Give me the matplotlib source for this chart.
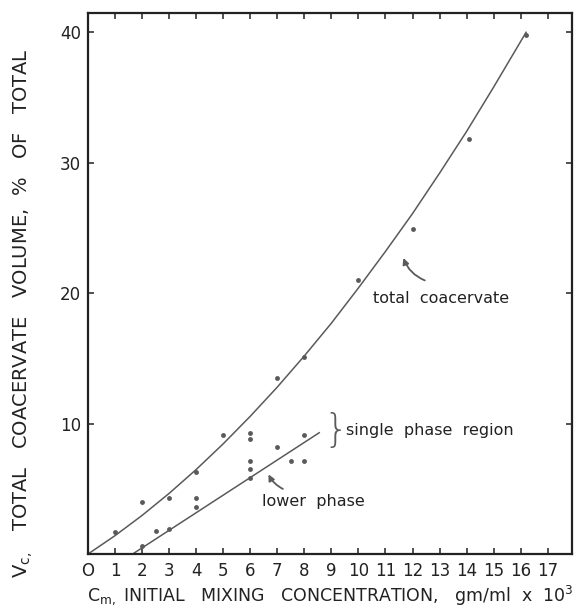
"""Total coacervate volume vs initial mixing concentration (scanned figure redraw)."""
import matplotlib
matplotlib.use("Agg")
import matplotlib.pyplot as plt

# measured points, total coacervate
total_x = [1, 2, 3, 4, 5, 6, 6, 7, 8, 10, 12, 14.1, 16.2]
total_y = [1.7, 4.0, 4.3, 6.3, 9.1, 9.3, 8.8, 13.5, 15.1, 21.0, 24.9, 31.8, 39.8]
# measured points, lower phase
lower_x = [2, 2.5, 3, 4, 4, 6, 6, 6, 7, 7.5, 8, 8]
lower_y = [0.6, 1.75, 1.9, 3.6, 4.3, 5.8, 6.5, 7.1, 8.2, 7.1, 7.1, 9.1]

# fitted curves
fit_total_x = [0, 1, 2, 3, 4, 5, 6, 7, 8, 9, 10, 11, 12, 13, 14, 15, 16.2]
fit_total_y = [0, 1.41, 2.96, 4.65, 6.48, 8.45, 10.56, 12.8, 15.19, 17.7, 20.4,
               23.2, 26.1, 29.2, 32.4, 35.8, 40.0]
fit_lower_x = [1.65, 8.55]
fit_lower_y = [0.0, 9.3]

xticks = list(range(0, 18))
xticklabels = ["O"] + [str(i) for i in range(1, 18)]
yticks = [10, 20, 30, 40]

INK = "#222222"
GREY = "#5a5a5a"

fig = plt.figure(figsize=(5.79, 6.13), dpi=100)
ax = fig.add_axes([0.152, 0.0962, 0.836, 0.883])

ax.plot(fit_total_x, fit_total_y, color=GREY, lw=1.1)
ax.plot(fit_lower_x, fit_lower_y, color=GREY, lw=1.1)
ax.plot(total_x, total_y, "o", ms=3.5, color=GREY, mec="none")
ax.plot(lower_x, lower_y, "o", ms=3.5, color=GREY, mec="none")

ax.set_xlim(0, 17.9)
ax.set_ylim(0, 41.5)
ax.set_xticks(xticks)
ax.set_xticklabels(xticklabels)
ax.set_yticks(yticks)
ax.tick_params(direction="in", top=True, right=True, length=4, width=1.1,
               color=INK, labelsize=12, labelcolor=INK, pad=6)
ax.tick_params(axis="y", pad=5)
for s in ax.spines.values():
    s.set_linewidth(1.6)
    s.set_color(INK)

ax.set_xlabel(r"C$_\mathregular{m,}$ INITIAL   MIXING   CONCENTRATION,   gm/ml  x  10$^\mathregular{3}$",
              fontsize=12.5, color=INK)
ax.xaxis.set_label_coords(0.5, -0.054)
ax.set_ylabel(r"V$_\mathregular{c,}$   TOTAL   COACERVATE   VOLUME,  %   OF   TOTAL",
              fontsize=14, color=INK)
ax.yaxis.set_label_coords(-0.11, 0.445)

# annotations
ax.text(10.55, 19.6, "total  coacervate", fontsize=11.5, color=INK, va="center")
ax.annotate("", xy=(11.63, 22.9), xytext=(12.55, 20.9),
            arrowprops=dict(arrowstyle="-|>", color=GREY, lw=1.3,
                            connectionstyle="arc3,rad=-0.25", mutation_scale=9))
ax.text(9.55, 9.5, "single  phase  region", fontsize=11.5, color=INK, va="center")
ax.text(9.15, 9.4, "}", fontsize=28, color=GREY, va="center", ha="center",
        fontweight="light")
ax.text(6.45, 4.0, "lower  phase", fontsize=11.5, color=INK, va="center")
ax.annotate("", xy=(6.63, 6.3), xytext=(7.3, 4.9),
            arrowprops=dict(arrowstyle="-|>", color=GREY, lw=1.3,
                            connectionstyle="arc3,rad=-0.2", mutation_scale=9))

fig.savefig("out.png", dpi=100)
